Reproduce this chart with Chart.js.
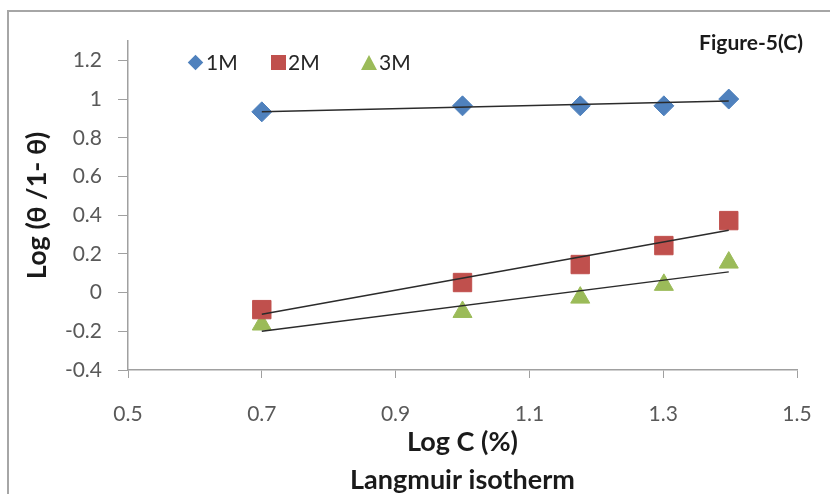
<!DOCTYPE html>
<html>
<head>
<meta charset="utf-8">
<script src="https://cdn.jsdelivr.net/npm/chart.js@4/dist/chart.umd.min.js"></script>
<style>
  html, body { margin: 0; padding: 0; background: #fff; }
  #wrap { position: relative; width: 830px; height: 494px; overflow: hidden; }
  #frame { position: absolute; left: 7px; top: 10px; width: 840px; height: 500px;
           border-left: 2px solid #a6a6a6; border-top: 2px solid #a6a6a6; }
  #myChart { position: absolute; left: 0; top: 0; }
  .fig { position: absolute; right: 27px; top: 28px; font: bold 21px Lato, sans-serif; color: #1a1a1a; line-height: 28px; }
  .leg { position: absolute; top: 49px; font: 21px Lato, sans-serif; color: #262626; line-height: 26px; }
  .mk { display: inline-block; vertical-align: middle; margin-right: 3px; position: relative; top: -2px; }
  .dia { width: 11px; height: 11px; background: #4f81bd; transform: rotate(45deg); margin: 0 5px 0 2px; }
  .sq { width: 15px; height: 15px; background: #c0504d; margin-right: 2px; }
  .tri { width: 0; height: 0; border-left: 8px solid transparent; border-right: 8px solid transparent;
         border-bottom: 15px solid #9bbb59; margin-right: 2px; }
</style>
</head>
<body>
<div id="wrap">
  <div id="frame"></div>
  <canvas id="myChart" width="830" height="494"></canvas>
  <div class="fig">Figure-5(C)</div>
  <div class="leg" style="left:188px"><span class="mk dia"></span>1M</div>
  <div class="leg" style="left:271px"><span class="mk sq"></span>2M</div>
  <div class="leg" style="left:361px"><span class="mk tri"></span>3M</div>
</div>
<script>
// log C values
const logC = [0.7, 1.0, 1.176, 1.301, 1.398];
// log(theta/1-theta) per concentration
const val1M = [0.934, 0.965, 0.965, 0.965, 1.0];
const val2M = [-0.088, 0.052, 0.145, 0.243, 0.372];
const val3M = [-0.165, -0.10, -0.026, 0.04, 0.155];
// trend line ends (x = 0.7 and 1.398)
const trendX = [0.7, 1.398];
const trend1M = [0.935, 0.99];
const trend2M = [-0.112, 0.322];
const trend3M = [-0.20, 0.107];
// axis ticks
const xTicks = [0.5, 0.7, 0.9, 1.1, 1.3, 1.5];
const yTicks = [-0.4, -0.2, 0, 0.2, 0.4, 0.6, 0.8, 1, 1.2];

(() => {
    const ctx = document.getElementById('myChart').getContext('2d');
    const pts = (xs, ys) => xs.map((x, i) => ({ x: x, y: ys[i] }));
    const axisGray = '#a0a0a0';
    const tickFont = { family: 'Lato, sans-serif', size: 21 };

    const trend = (ys) => ({
        data: pts(trendX, ys),
        showLine: true,
        borderColor: '#2b2b2b',
        borderWidth: 1.5,
        pointRadius: 0,
        order: 0
    });

    new Chart(ctx, {
        type: 'scatter',
        data: {
            datasets: [
                trend(trend1M), trend(trend2M), trend(trend3M),
                { label: '1M', data: pts(logC, val1M), pointStyle: 'rectRot', pointRadius: 10,
                  backgroundColor: '#4f81bd', borderColor: '#4f81bd', order: 1 },
                { label: '2M', data: pts(logC, val2M), pointStyle: 'rect', pointRadius: 13,
                  backgroundColor: '#c0504d', borderColor: '#c0504d', order: 1 },
                { label: '3M', data: pts(logC, val3M), pointStyle: 'triangle', pointRadius: 11,
                  backgroundColor: '#9bbb59', borderColor: '#9bbb59', order: 1 }
            ]
        },
        options: {
            responsive: false,
            animation: false,
            layout: { padding: { left: 0, right: 33, top: 41, bottom: 0 } },
            plugins: { legend: { display: false }, tooltip: { enabled: false } },
            scales: {
                x: {
                    type: 'linear', min: 0.5, max: 1.5,
                    afterFit: s => { s.height = 124; s.paddingLeft = 0; s.paddingRight = 0; },
                    afterBuildTicks: s => { s.ticks = xTicks.map(v => ({ value: v })); },
                    ticks: { font: tickFont, color: '#595959', padding: 24,
                             callback: v => String(Math.round(v * 10) / 10) },
                    grid: { drawOnChartArea: false, color: axisGray, tickLength: 8 },
                    border: { color: axisGray, width: 1.5 },
                    title: { display: true, text: ['Log C (%)', 'Langmuir isotherm'],
                             font: { family: 'Lato, sans-serif', size: 27, weight: 'bold', lineHeight: '38px' },
                             color: '#1a1a1a', padding: { top: 0, bottom: -5 } }
                },
                y: {
                    type: 'linear', min: -0.4, max: 1.3,
                    afterFit: s => { s.width = 128; s.paddingTop = 0; s.paddingBottom = 0; },
                    afterBuildTicks: s => { s.ticks = yTicks.map(v => ({ value: v })); },
                    ticks: { font: tickFont, color: '#595959', padding: 16,
                             callback: v => String(Math.round(v * 10) / 10) },
                    grid: { drawOnChartArea: false, color: axisGray, tickLength: 10 },
                    border: { color: axisGray, width: 1.5 },
                    title: { display: true, text: 'Log (θ /1- θ)',
                             font: { family: 'Lato, sans-serif', size: 27, weight: 'bold' },
                             color: '#1a1a1a', padding: { top: 21, bottom: 0 } }
                }
            }
        }
    });
})();
</script>
</body>
</html>
